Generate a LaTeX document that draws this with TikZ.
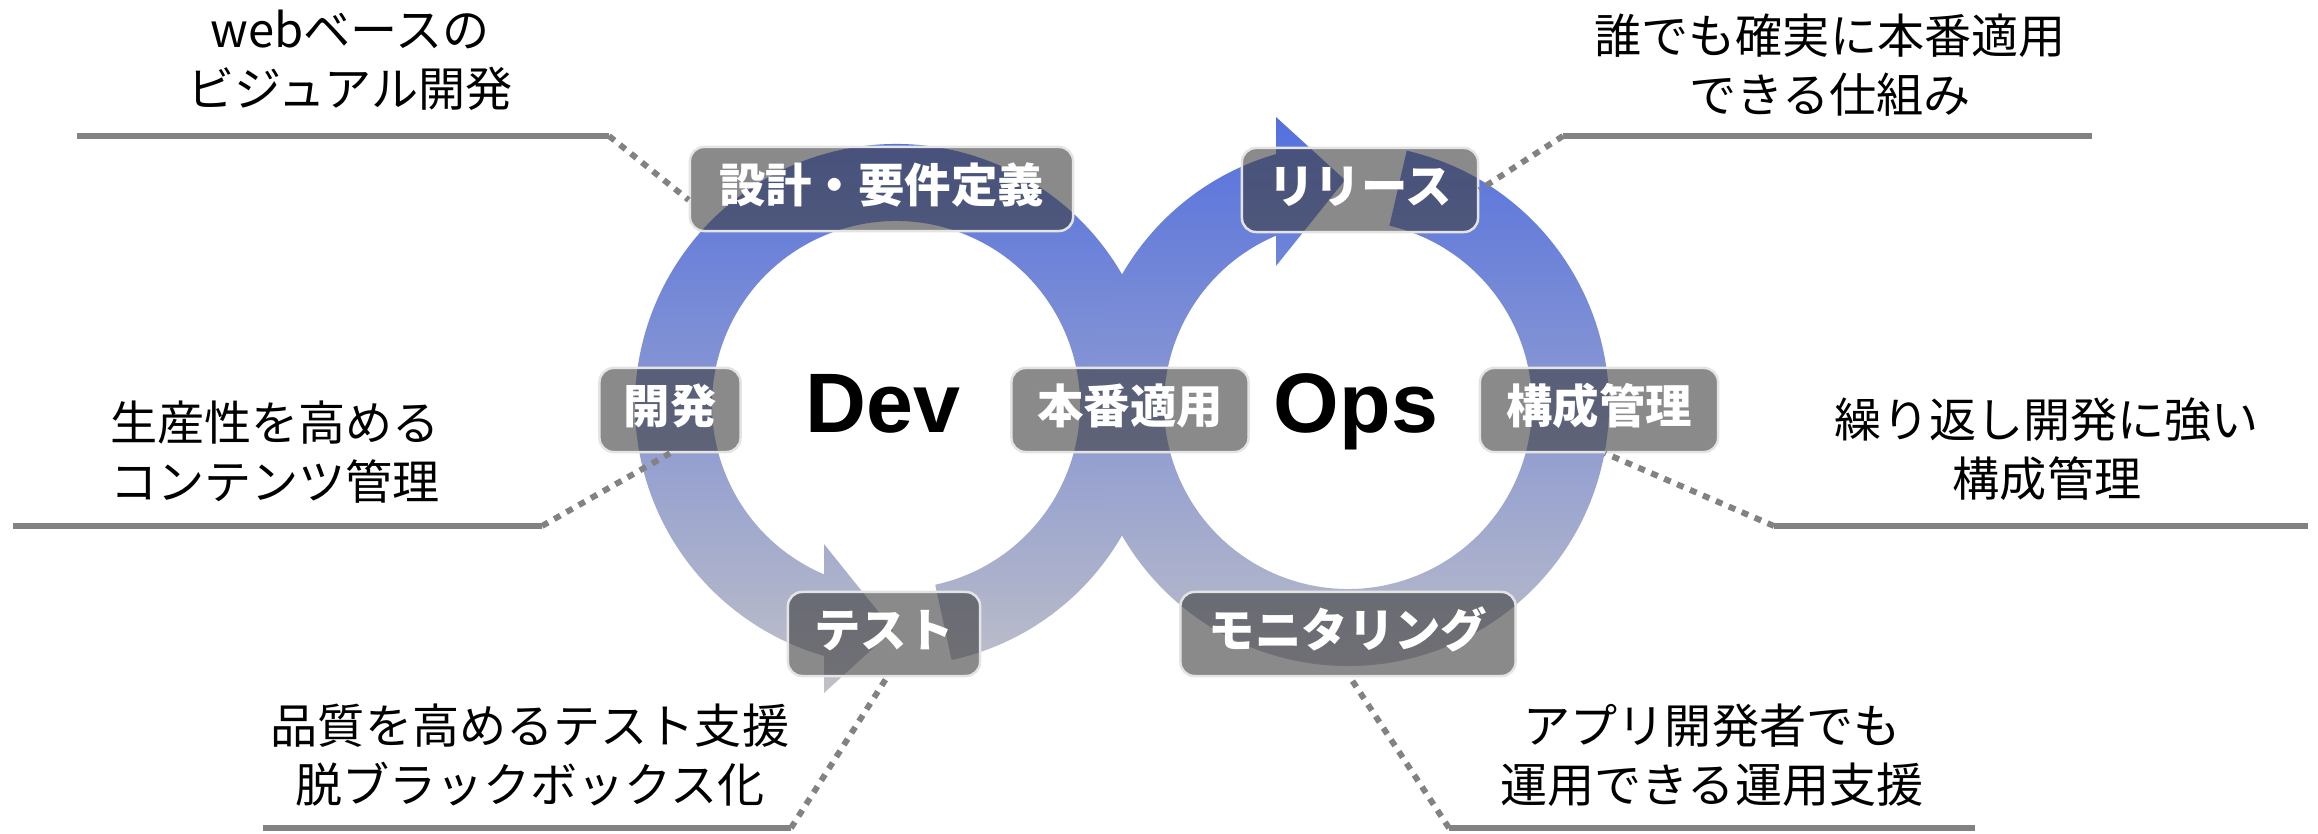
\documentclass[tikz,border=0pt]{standalone}
\usepackage{fontspec}
\setmainfont{Noto Sans CJK JP}
\newfontfamily\latinfont{Liberation Sans}
\usetikzlibrary{calc}
\definecolor{ringtop}{RGB}{84,112,222}
\definecolor{ringmid}{RGB}{138,147,208}
\definecolor{ringbot}{RGB}{193,193,199}
\definecolor{linegray}{RGB}{130,130,130}
\definecolor{boxfill}{RGB}{60,60,60}
\definecolor{boxline}{RGB}{228,228,228}
\tikzset{
  ringfill/.style={top color=ringtop, middle color=ringmid, bottom color=ringbot, draw=none},
  lbl/.style={rounded corners=4pt, fill=boxfill, fill opacity=0.6, text opacity=1,
    draw=boxline, draw opacity=1, line width=0.7pt, text=white,
    font=\bfseries\fontsize{13.2}{15}\selectfont, minimum height=0.84cm, inner sep=0pt,
    text height=0.88em, text depth=0.12em},
  btxt/.style={align=center, font=\fontsize{13.4}{16.8}\selectfont, inner sep=0pt, text=black},
  big/.style={font=\latinfont\bfseries\fontsize{24}{28}\selectfont, inner sep=0pt, anchor=base},
  leader/.style={draw=linegray, line width=1.7pt},
  dots/.style={draw=linegray, line width=1.7pt, dash pattern=on 2pt off 2pt},
}
\begin{document}
\begin{tikzpicture}[x=0.01cm,y=0.01cm]
\useasboundingbox (0,0) rectangle (2318,833);
\coordinate (dc) at (896,428);
\coordinate (oc) at (1348,428);
% Dev ring with arrowhead
\path[ringfill] ($(dc)+(-77.7:261)$) arc[start angle=-77.7, end angle=254, radius=261]
  -- ($(dc)+(247:184)$) arc[start angle=247, end angle=-77.7, radius=184] -- cycle
  (824,289) -- (893,203) -- (824,140) -- cycle;
% Ops ring with arrowhead
\path[ringfill] ($(oc)+(77:261)$) arc[start angle=77, end angle=-254, radius=261]
  -- ($(oc)+(-247:184)$) arc[start angle=-247, end angle=77, radius=184] -- cycle
  (1276,716) -- (1345,653) -- (1276,567) -- cycle;

% centre words
\node[big] (dev) at (883,400) {Dev};
\node[big] (ops) at (1356,400) {Ops};

% label boxes
\node[lbl, minimum width=3.83cm] (b1) at (881.5,644) {設計・要件定義};
\node[lbl, minimum width=2.36cm] (b2) at (1360,643) {リリース};
\node[lbl, minimum width=1.41cm] (b3) at (670,423) {開発};
\node[lbl, minimum width=2.37cm] (b4) at (1130,423) {本番適用};
\node[lbl, minimum width=2.38cm] (b5) at (1599,423) {構成管理};
\node[lbl, minimum width=1.92cm] (b6) at (884,199) {テスト};
\node[lbl, minimum width=3.35cm] (b7) at (1348,199) {モニタリング};

% description texts
\node[btxt] (t1) at (350,773) {webベースの\\ビジュアル開発};
\node[btxt] (t2) at (275,381) {生産性を高める\\コンテンツ管理};
\node[btxt] (t3) at (1830,768) {誰でも確実に本番適用\\できる仕組み};
\node[btxt] (t4) at (2047,384) {繰り返し開発に強い\\構成管理};
\node[btxt] (t5) at (530,78) {品質を高めるテスト支援\\脱ブラックボックス化};
\node[btxt] (t6) at (1712,78) {アプリ開発者でも\\運用できる運用支援};

% leader lines
\coordinate (l1a) at (77,697);   \coordinate (l1b) at (609,697);
\coordinate (l2a) at (13,307);   \coordinate (l2b) at (542,307);
\coordinate (l3a) at (2092,697); \coordinate (l3b) at (1563,697);
\coordinate (l4a) at (2308,307); \coordinate (l4b) at (1774,307);
\coordinate (l5a) at (263,5);    \coordinate (l5b) at (791,5);
\coordinate (l6a) at (1975,5);   \coordinate (l6b) at (1449,5);
\draw[leader] (l1a) -- (l1b);
\draw[leader] (l2a) -- (l2b);
\draw[leader] (l3a) -- (l3b);
\draw[leader] (l4a) -- (l4b);
\draw[leader] (l5a) -- (l5b);
\draw[leader] (l6a) -- (l6b);
\draw[dots] (l1b) -- ($(b1.west)+(0,-11)$);
\draw[dots] (l2b) -- (b3.south);
\draw[dots] (l3b) -- (b2.east);
\draw[dots] (l4b) -- ($(b5.south)+(6,0)$);
\draw[dots] (l5b) -- ($(b6.south)+(3,0)$);
\draw[dots] (l6b) -- ($(b7.south)+(2,0)$);
\end{tikzpicture}
\end{document}
